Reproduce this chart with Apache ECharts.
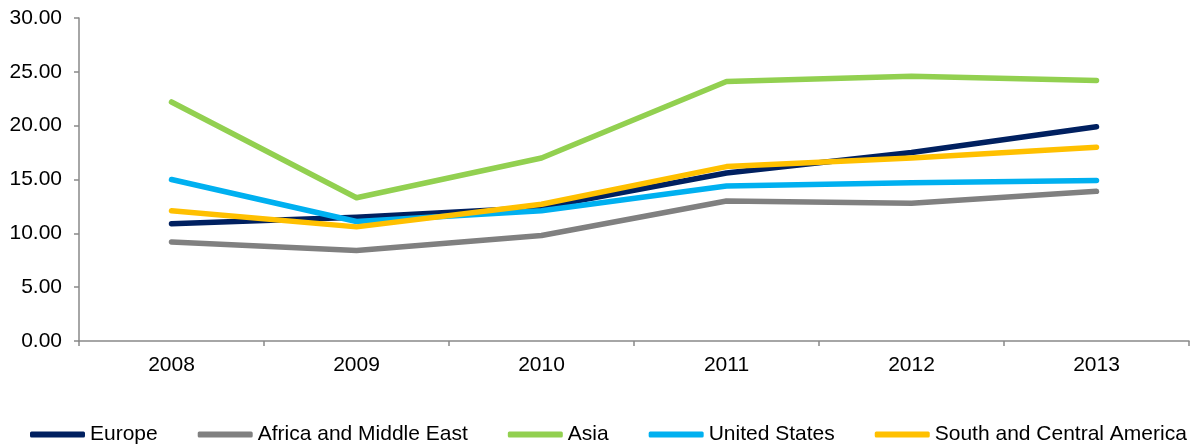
<!DOCTYPE html>
<html>
<head>
<meta charset="utf-8">
<script src="https://cdn.jsdelivr.net/npm/echarts@6/dist/echarts.min.js"></script>
<style>
html,body{margin:0;padding:0;background:#fff;}
#c{width:1200px;height:446px;}
</style>
</head>
<body>
<div id="c"></div>
<script>
const years = ['2008','2009','2010','2011','2012','2013'];
const europe = [10.9, 11.5, 12.4, 15.6, 17.5, 19.9];
const africa = [9.2, 8.4, 9.8, 13.0, 12.8, 13.9];
const asia = [22.2, 13.3, 17.0, 24.1, 24.6, 24.2];
const unitedStates = [15.0, 11.1, 12.1, 14.4, 14.7, 14.9];
const southCentral = [12.1, 10.6, 12.7, 16.2, 17.0, 18.0];
const seriesNames = ['Europe','Africa and Middle East','Asia','United States','South and Central America'];
const seriesData = [europe, africa, asia, unitedStates, southCentral];
const colors = ['#002060','#808080','#92D050','#00B0F0','#FFC000'];

const font = '"Liberation Sans", Arial, sans-serif';
const chart = echarts.init(document.getElementById('c'), null, {renderer:'canvas'});
chart.setOption({
  animation:false,
  color: colors,
  grid:{left:79, right:11, top:18, bottom:105, containLabel:false},
  legend:{
    left:30, right:0, top:424, padding:0, icon:'roundRect', itemWidth:55, itemHeight:6, itemGap:40,
    textStyle:{fontFamily:font, fontSize:21, color:'#000'},
    data: seriesNames
  },
  xAxis:{
    type:'category', data: years, boundaryGap:true,
    axisLine:{lineStyle:{color:'#898989', width:1.5}},
    axisTick:{show:true, inside:false, length:5, interval:0, lineStyle:{color:'#898989', width:1.5}},
    axisLabel:{fontFamily:font, fontSize:21, color:'#000', margin:14},
    splitLine:{show:false}
  },
  yAxis:{
    type:'value', min:0, max:30, interval:5,
    axisLine:{show:true, lineStyle:{color:'#898989', width:1.5}},
    axisTick:{show:true, inside:false, length:5, lineStyle:{color:'#898989', width:1.5}},
    axisLabel:{fontFamily:font, fontSize:21, color:'#000', margin:17, formatter:v=>v.toFixed(2)},
    splitLine:{show:false}
  },
  series: seriesNames.map((n,i)=>({
    name:n, type:'line', data: seriesData[i], showSymbol:false, symbol:'none',
    lineStyle:{width:5.5, color:colors[i], cap:'round', join:'round'},
    itemStyle:{color:colors[i]}
  }))
});
</script>
</body>
</html>
